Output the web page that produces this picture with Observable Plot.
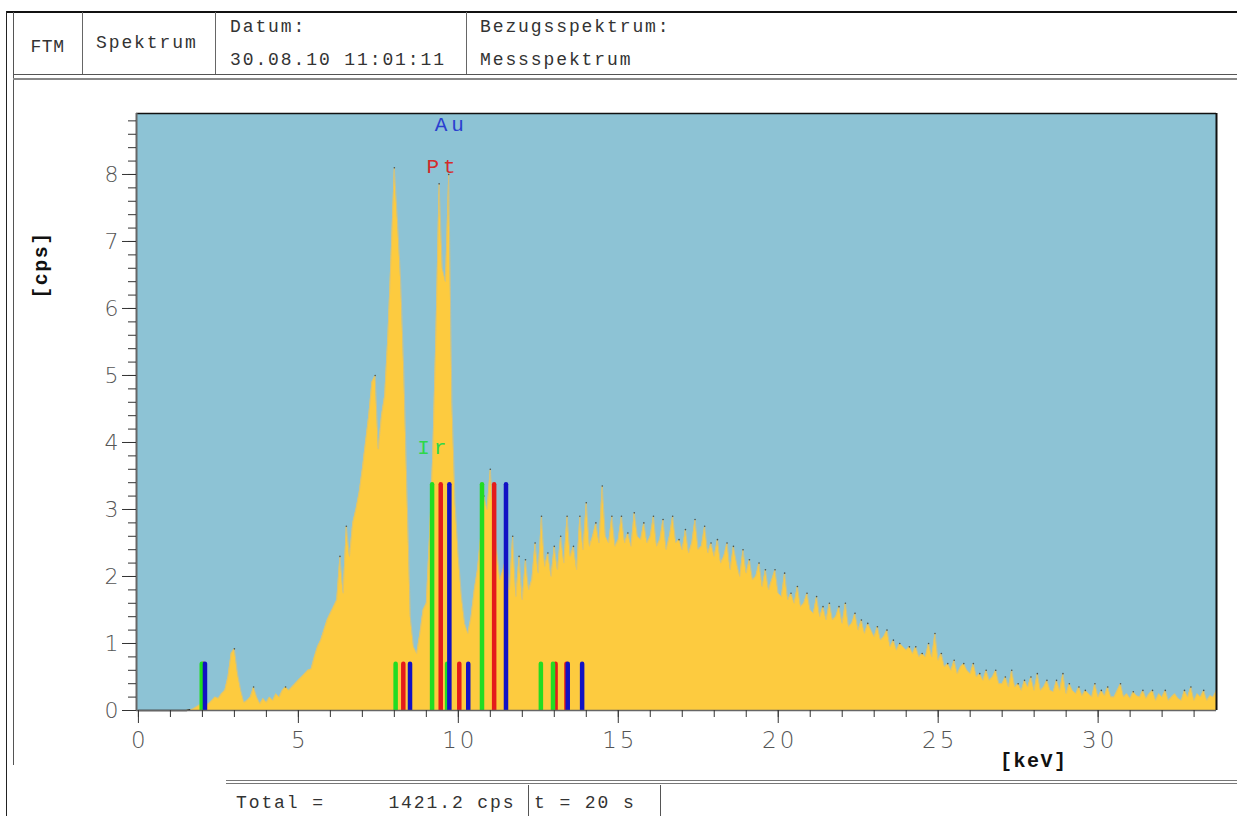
<!DOCTYPE html>
<html><head><meta charset="utf-8">
<script src="https://cdn.jsdelivr.net/npm/d3@7"></script>
<script src="https://cdn.jsdelivr.net/npm/@observablehq/plot@0.6"></script>
<style>
body{margin:0;background:#fff;}
#page{position:relative;width:1237px;height:816px;overflow:hidden;background:#fff;font-family:"Liberation Mono","DejaVu Sans Mono",monospace;}
.ln{position:absolute;}
.t{position:absolute;font-size:18px;letter-spacing:1.9px;color:#333;white-space:pre;line-height:1;}
.ax{position:absolute;font-size:20px;font-weight:bold;letter-spacing:1.5px;color:#111;white-space:pre;line-height:1;}
#chart{position:absolute;left:0;top:80px;}
</style>
</head><body>
<div id="page">
  <!-- frame lines -->
  <div class="ln" style="left:6px;top:11px;width:1231px;height:2px;background:#111"></div>
  <div class="ln" style="left:6px;top:11px;width:1px;height:805px;background:#222"></div>
  <div class="ln" style="left:13px;top:12px;width:1px;height:753px;background:#555"></div>
  <div class="ln" style="left:82px;top:12px;width:1px;height:62px;background:#666"></div>
  <div class="ln" style="left:215px;top:12px;width:1px;height:62px;background:#666"></div>
  <div class="ln" style="left:466px;top:12px;width:1px;height:62px;background:#666"></div>
  <div class="ln" style="left:13px;top:74px;width:1224px;height:1px;background:#555"></div>
  <div class="ln" style="left:13px;top:78px;width:1224px;height:2px;background:#888"></div>
  <div class="ln" style="left:226px;top:780px;width:1011px;height:1px;background:#777"></div>
  <div class="ln" style="left:226px;top:783px;width:1011px;height:1px;background:#777"></div>
  <div class="ln" style="left:528px;top:785px;width:1px;height:31px;background:#555"></div>
  <div class="ln" style="left:660px;top:785px;width:1px;height:31px;background:#555"></div>
  <!-- header text -->
  <div class="t" style="left:13px;top:38px;width:69px;text-align:center;letter-spacing:0.5px">FTM</div>
  <div class="t" style="left:96px;top:34px">Spektrum</div>
  <div class="t" style="left:230px;top:18px">Datum:</div>
  <div class="t" style="left:230px;top:51px">30.08.10 11:01:11</div>
  <div class="t" style="left:480px;top:18px">Bezugsspektrum:</div>
  <div class="t" style="left:480px;top:51px">Messspektrum</div>
  <!-- footer text -->
  <div class="t" style="left:236px;top:794px">Total =     1421.2 cps</div>
  <div class="t" style="left:534px;top:794px">t = 20 s</div>
  <!-- axis titles -->
  <div class="ax" style="left:42px;top:265px;transform:translate(-50%,-50%) rotate(-90deg);">[cps]</div>
  <div class="ax" style="left:1000px;top:752px">[keV]</div>
  <div id="chart"></div>
</div>
<script>
// ---- data ----
const keVStep = 0.1; // channel width of the readings below (keV)
const counts = [
  0,0,0,0,0,0,0,0,0,0,
  0,0,0,0,0,0,0.01,0.02,0.05,0.08,
  0.1,0.08,0.1,0.15,0.2,0.18,0.25,0.3,0.5,0.85,
  0.92,0.55,0.3,0.12,0.15,0.2,0.35,0.2,0.1,0.18,
  0.12,0.2,0.15,0.25,0.2,0.3,0.35,0.3,0.35,0.4,
  0.45,0.5,0.55,0.6,0.62,0.8,0.95,1.05,1.2,1.35,
  1.45,1.55,1.65,2.3,1.75,2.75,2.3,2.8,3.0,3.25,
  3.6,4.0,4.4,4.9,5.0,3.9,4.4,4.7,5.6,6.8,
  8.1,7.3,6.4,5.0,3.2,1.4,0.95,0.85,1.15,1.5,
  1.6,2.6,3.8,5.6,7.86,6.6,6.4,8.0,4.6,3.1,
  2.3,1.7,1.3,1.15,1.4,1.8,2.1,2.6,3.2,3.0,
  3.6,2.9,2.4,1.95,2.1,2.3,1.8,2.6,1.7,2.3,
  1.65,2.25,1.8,1.95,2.5,2.05,2.9,2.15,2.35,2.0,
  2.45,2.1,2.6,2.2,2.9,2.3,2.45,2.1,2.9,2.4,
  3.1,2.45,2.6,2.8,2.5,3.35,2.6,2.5,2.9,2.45,
  2.55,2.9,2.5,2.65,2.45,2.95,2.6,2.55,2.8,2.5,
  2.6,2.9,2.45,2.55,2.85,2.4,2.6,2.9,2.5,2.55,
  2.4,2.7,2.35,2.5,2.85,2.4,2.45,2.75,2.35,2.5,
  2.3,2.55,2.2,2.3,2.5,2.1,2.45,2.2,2.0,2.4,
  2.05,2.25,1.95,2.0,2.2,1.85,2.1,1.8,1.95,2.1,
  1.75,1.7,2.05,1.65,1.75,1.6,1.85,1.55,1.6,1.75,
  1.5,1.45,1.7,1.4,1.55,1.35,1.6,1.35,1.4,1.55,
  1.3,1.6,1.25,1.3,1.45,1.2,1.35,1.15,1.3,1.2,
  1.1,1.25,1.05,1.1,1.2,0.95,1.05,0.9,1.0,0.95,
  0.9,0.95,0.85,0.95,0.8,0.85,0.8,1.0,0.8,1.15,
  0.75,0.85,0.65,0.7,0.6,0.75,0.55,0.65,0.7,0.6,
  0.55,0.7,0.5,0.55,0.45,0.6,0.45,0.5,0.6,0.4,
  0.4,0.5,0.35,0.6,0.35,0.4,0.3,0.45,0.35,0.5,
  0.3,0.55,0.3,0.35,0.45,0.3,0.28,0.45,0.3,0.55,
  0.25,0.4,0.3,0.25,0.35,0.22,0.3,0.25,0.2,0.4,
  0.2,0.3,0.22,0.35,0.2,0.2,0.3,0.4,0.2,0.25,
  0.18,0.28,0.22,0.2,0.3,0.18,0.25,0.3,0.15,0.25,
  0.2,0.3,0.15,0.2,0.25,0.18,0.15,0.3,0.2,0.35,
  0.15,0.25,0.2,0.3,0.15,0.22,0.2,0.3
];

// element marker lines (keV) and their heights (cps)
const irEnergies = [1.98, 8.04, 9.18, 9.65, 10.74, 12.58, 12.96];
const irHeights  = [0.69, 0.69, 3.37, 0.69, 3.37, 0.69, 0.69];
const ptEnergies = [2.03, 8.28, 9.45, 10.03, 11.12, 13.04, 13.38];
const ptHeights  = [0.69, 0.69, 3.37, 0.69, 3.37, 0.69, 0.69];
const auEnergies = [2.08, 8.49, 9.72, 10.31, 11.49, 13.42, 13.87];
const auHeights  = [0.69, 0.69, 3.37, 0.69, 3.37, 0.69, 0.69];

const labelNames  = ["Au", "Pt", "Ir"];
const labelKeV    = [9.72, 9.46, 9.17];
const labelCps    = [8.75, 8.12, 3.93];
const labelColors = ["#2a3fd0", "#d42a2a", "#2ed84a"];

const xTicks = [0, 5, 10, 15, 20, 25, 30];
const yTicks = [0, 1, 2, 3, 4, 5, 6, 7, 8];
const xDomain = [-0.06, 33.7];
const yDomain = [0, 8.91];

// ---- build ----
const spectrum = counts.map((c, i) => ({e: +(i * keVStep).toFixed(2), c}));
const tips = spectrum.filter((d, i) => d.c > 0.25 && i > 0 && i < counts.length - 1 && d.c > counts[i - 1] && d.c >= counts[i + 1]);
const xMinor = d3.range(0, 34, 1);
const yMinor = d3.range(0, 8.9, 0.2);

const GREEN = "#22dc22", RED = "#e41b1b", BLUE = "#1212c4";
const tickFont = {fontFamily: "DejaVu Sans", fontWeight: 200, fill: "#555"};

const chart = Plot.plot({
  width: 1237, height: 700,
  marginLeft: 136, marginRight: 21, marginTop: 33, marginBottom: 70,
  style: {background: "transparent", overflow: "visible"},
  x: {domain: xDomain},
  y: {domain: yDomain},
  marks: [
    Plot.frame({fill: "#8dc3d5", stroke: null}),
    Plot.areaY(spectrum, {x: "e", y: "c", fill: "#fdcb3f", curve: "linear"}),
    Plot.lineY(spectrum, {x: "e", y: "c", stroke: "#d6c27e", strokeWidth: 0.8}),
    Plot.dot(tips, {x: "e", y: "c", r: 0.8, fill: "#222", stroke: null, fillOpacity: 0.7}),
    Plot.lineY(spectrum.filter(d => d.e <= 1.6), {x: "e", y: "c", stroke: "#222", strokeWidth: 1.5}),
    Plot.ruleX(ptEnergies, {x: d => d, y1: 0, y2: (d, i) => ptHeights[i], stroke: RED, strokeWidth: 4.5, strokeLinecap: "round", clip: true}),
    Plot.ruleX(irEnergies, {x: d => d, y1: 0, y2: (d, i) => irHeights[i], stroke: GREEN, strokeWidth: 4.5, strokeLinecap: "round", clip: true}),
    Plot.ruleX(auEnergies, {x: d => d, y1: 0, y2: (d, i) => auHeights[i], stroke: BLUE, strokeWidth: 4.5, strokeLinecap: "round", clip: true}),
    ...labelNames.map((n, i) => Plot.text([n], {
      x: () => labelKeV[i], y: () => labelCps[i], text: d => d, dx: 2,
      fill: labelColors[i], fontSize: 21, fontFamily: "Liberation Mono"
    })),
    // frame borders
    Plot.ruleY([yDomain[1]], {stroke: "#111", strokeWidth: 1.5}),
    Plot.ruleX([xDomain[1]], {stroke: "#111", strokeWidth: 2}),
    Plot.ruleX([xDomain[0]], {stroke: "#666", strokeWidth: 2}),
    Plot.ruleY([0], {stroke: "#666", strokeWidth: 1.5}),
    // axes ticks
    Plot.axisY({ticks: yMinor, tickSize: 8, tickFormat: () => "", label: null, stroke: "#333"}),
    Plot.axisY({ticks: yTicks, tickSize: 14, tickFormat: () => "", label: null, stroke: "#333"}),
    Plot.axisX({ticks: xMinor, tickSize: 7, tickFormat: () => "", label: null, stroke: "#333"}),
    Plot.axisX({ticks: xTicks, tickSize: 13, tickFormat: () => "", label: null, stroke: "#333"}),
    // tick labels
    Plot.text(xTicks, {x: d => d, y: () => 0, dy: 30, dx: 1.5, text: d => String(d), fontSize: 23, ...tickFont}),
    Plot.text(yTicks, {x: () => xDomain[0], y: d => d, dx: -15, textAnchor: "end", text: d => String(d), fontSize: 22, ...tickFont})
  ]
});
// letter spacing for the wide-set labels of the original
d3.select(chart).selectAll("text").each(function () {
  const s = this.textContent;
  if (/^\d+$/.test(s)) d3.select(this).style("letter-spacing", "3px");
  if (labelNames.includes(s)) d3.select(this).style("letter-spacing", "4px");
});
document.getElementById("chart").appendChild(chart);
</script>
</body></html>
